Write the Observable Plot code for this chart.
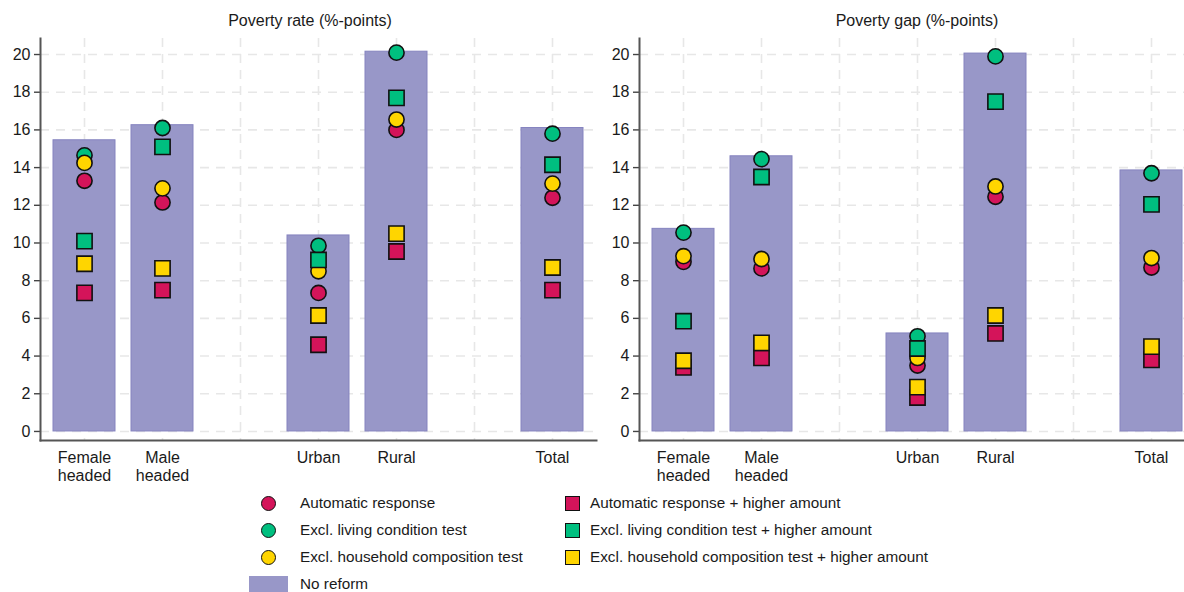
<!DOCTYPE html>
<html>
<head>
<meta charset="utf-8">
<script src="https://cdn.jsdelivr.net/npm/d3@7"></script>
<script src="https://cdn.jsdelivr.net/npm/@observablehq/plot@0.6"></script>
<style>
  html, body { margin: 0; padding: 0; background: #fff; }
  body { font-family: "Liberation Sans Narrow", "Arial Narrow", "Liberation Sans", Arial, sans-serif; color: #1a1a1a; }
  #wrap { position: relative; width: 1184px; height: 592px; overflow: hidden; background: #fff; }
  .panel { position: absolute; top: 0; width: 600px; height: 490px; }
  .panel svg { max-width: none !important; }
  .ptitle { position: absolute; top: 12px; width: 300px; text-align: center; font-size: 16px; white-space: nowrap; }
  .leg { position: absolute; font-size: 15.3px; white-space: nowrap; line-height: 18px; }
  .sym { position: absolute; box-sizing: border-box; border: 1.6px solid #111; }
</style>
</head>
<body>
<div id="wrap"></div>
<script>
// ---- data ----
const categories = ["Female headed", "Male headed", "Urban", "Rural", "Total"];
const slotOrder = ["Female headed", "Male headed", "", "Urban", "Rural", " ", "Total"];
const yTicks = [0, 2, 4, 6, 8, 10, 12, 14, 16, 18, 20];

const seriesNames = [
  "Automatic response",
  "Excl. living condition test",
  "Excl. household composition test",
  "Automatic response + higher amount",
  "Excl. living condition test + higher amount",
  "Excl. household composition test + higher amount"
];
const seriesColors = ["#D4145A", "#00BF7F", "#FFD500", "#D4145A", "#00BF7F", "#FFD500"];
const seriesSymbols = ["circle", "circle", "circle", "square", "square", "square"];
const noReformName = "No reform";
const barColor = "#9897C8";

// Poverty rate (%-points)
const rateNoReform      = [15.45, 16.25, 10.4, 20.15, 16.1];
const rateAuto          = [13.3, 12.15, 7.35, 16.0, 12.4];
const rateLiving        = [14.65, 16.1, 9.85, 20.1, 15.8];
const rateHousehold     = [14.25, 12.9, 8.5, 16.55, 13.15];
const rateAutoHigh      = [7.35, 7.5, 4.6, 9.55, 7.5];
const rateLivingHigh    = [10.1, 15.1, 9.1, 17.7, 14.15];
const rateHouseholdHigh = [8.9, 8.65, 6.15, 10.5, 8.7];

// Poverty gap (%-points)
const gapNoReform      = [10.75, 14.6, 5.2, 20.05, 13.85];
const gapAuto          = [9.0, 8.65, 3.5, 12.45, 8.7];
const gapLiving        = [10.55, 14.45, 5.05, 19.9, 13.7];
const gapHousehold     = [9.3, 9.15, 3.9, 13.0, 9.2];
const gapAutoHigh      = [3.4, 3.9, 1.8, 5.2, 3.8];
const gapLivingHigh    = [5.85, 13.5, 4.4, 17.5, 12.05];
const gapHouseholdHigh = [3.75, 4.7, 2.35, 6.15, 4.5];

const panels = [
  {title: "Poverty rate (%-points)", left: 0, titleCenter: 310, bars: rateNoReform,
   series: [rateAuto, rateLiving, rateHousehold, rateAutoHigh, rateLivingHigh, rateHouseholdHigh]},
  {title: "Poverty gap (%-points)", left: 599, titleCenter: 917, bars: gapNoReform,
   series: [gapAuto, gapLiving, gapHousehold, gapAutoHigh, gapLivingHigh, gapHouseholdHigh]}
];

const wrap = document.getElementById("wrap");
const FONT = '"Liberation Sans Narrow", "Arial Narrow", "Liberation Sans", Arial, sans-serif';

for (const p of panels) {
  const barRows = categories.map((c, i) => ({category: c, value: p.bars[i]}));
  const dotMarks = p.series.map((vals, s) =>
    Plot.dot(categories.map((c, i) => ({category: c, value: vals[i]})), {
      x: "category", y: "value",
      symbol: seriesSymbols[s],
      r: seriesSymbols[s] === "square" ? 8.6 : 7.6,
      fill: seriesColors[s], stroke: "#111", strokeWidth: 1.6
    })
  );
  const chart = Plot.plot({
    width: 600, height: 490,
    marginLeft: 40, marginRight: 4, marginTop: 38, marginBottom: 50,
    style: {fontFamily: FONT, background: "white", color: "#1a1a1a", overflow: "visible", maxWidth: "none"},
    x: {type: "band", domain: slotOrder, paddingInner: 0.2, paddingOuter: 0.164},
    y: {domain: [-0.48, 20.85]},
    marks: [
      Plot.ruleY(yTicks, {stroke: "#e7e7e7", strokeWidth: 1.6, strokeDasharray: "9,7"}),
      Plot.ruleX(slotOrder, {x: d => d, stroke: "#e7e7e7", strokeWidth: 1.6, strokeDasharray: "9,7"}),
      Plot.barY(barRows, {x: "category", y: "value", fill: barColor, stroke: "#8583BF", strokeWidth: 1}),
      ...dotMarks,
      Plot.axisY({ticks: yTicks, tickSize: 6, tickPadding: 4, fontSize: 16, stroke: "#444", strokeWidth: 1.4, fill: "#1a1a1a", label: null}),
      Plot.axisX({tickSize: 0, tickPadding: 10, fontSize: 16, lineHeight: 1.13, fill: "#1a1a1a", label: null,
                  tickFormat: d => d.trim() === "" ? "" : d.replace(" ", "\n")}),
      Plot.frame({anchor: "left", stroke: "#555", strokeWidth: 2}),
      Plot.frame({anchor: "bottom", stroke: "#555", strokeWidth: 2})
    ]
  });
  const div = document.createElement("div");
  div.className = "panel";
  div.style.left = p.left + "px";
  div.appendChild(chart);
  wrap.appendChild(div);

  const t = document.createElement("div");
  t.className = "ptitle";
  t.style.left = (p.titleCenter - 150) + "px";
  t.textContent = p.title;
  wrap.appendChild(t);
}

// ---- legend ----
const rowsY = [503, 530, 557];
function addLegend(name, color, shape, cx, cy, tx) {
  const s = document.createElement("div");
  s.className = "sym";
  const size = 15;
  s.style.width = size + "px"; s.style.height = size + "px";
  s.style.left = (cx - size / 2) + "px"; s.style.top = (cy - size / 2) + "px";
  s.style.background = color;
  if (shape === "circle") s.style.borderRadius = "50%";
  wrap.appendChild(s);
  const l = document.createElement("div");
  l.className = "leg";
  l.style.left = tx + "px"; l.style.top = (cy - 9) + "px";
  l.textContent = name;
  wrap.appendChild(l);
}
for (let s = 0; s < 3; s++) addLegend(seriesNames[s], seriesColors[s], seriesSymbols[s], 268, rowsY[s], 300);
for (let s = 3; s < 6; s++) addLegend(seriesNames[s], seriesColors[s], seriesSymbols[s], 572, rowsY[s - 3], 590);
{
  const sw = document.createElement("div");
  sw.style.cssText = `position:absolute;left:249px;top:576px;width:39px;height:17px;background:${barColor};`;
  wrap.appendChild(sw);
  const l = document.createElement("div");
  l.className = "leg";
  l.style.left = "300px"; l.style.top = (584 - 9) + "px";
  l.textContent = noReformName;
  wrap.appendChild(l);
}
</script>
</body>
</html>
